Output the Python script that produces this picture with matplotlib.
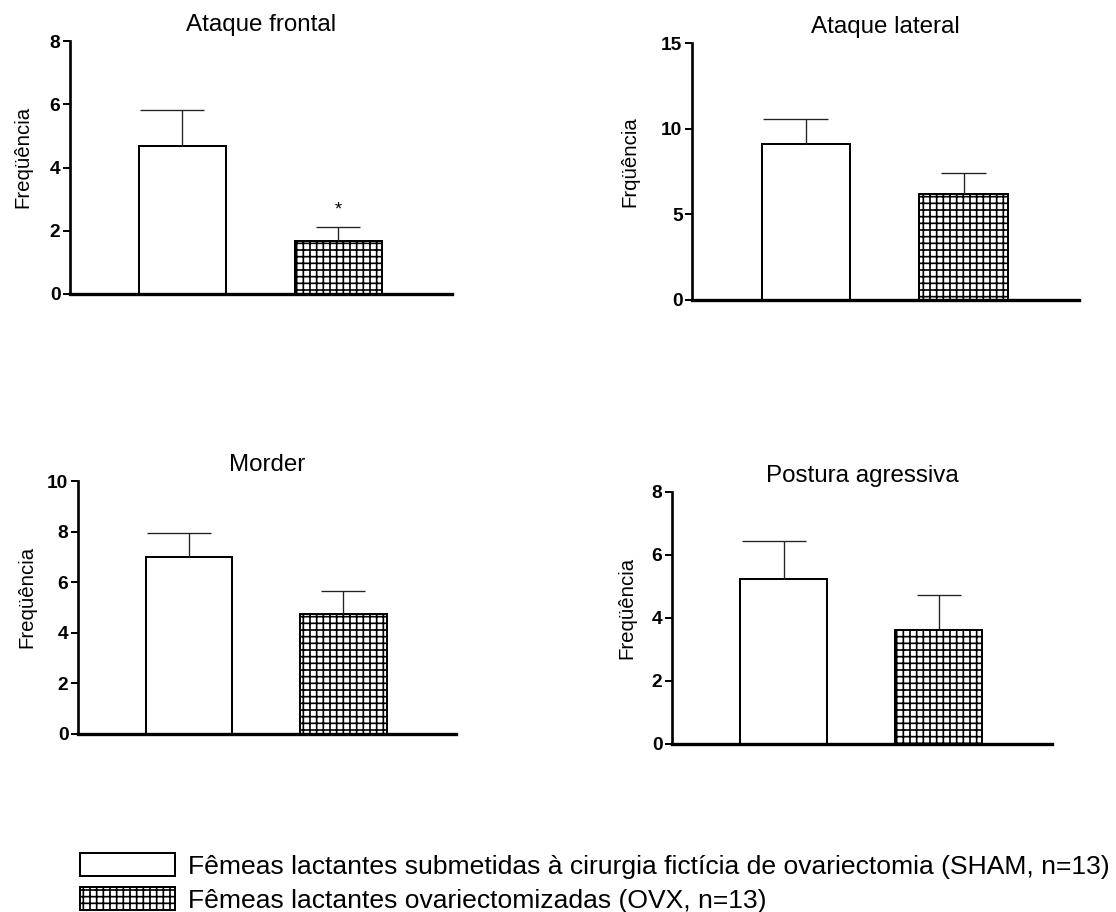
import matplotlib
matplotlib.use("Agg")
import matplotlib.pyplot as plt
from matplotlib.patches import Patch
import numpy as np

plt.rcParams['font.family'] = ['Liberation Sans', 'DejaVu Sans']
plt.rcParams['hatch.linewidth'] = 1.0

# ---- data ----
titles = ["Ataque frontal", "Ataque lateral", "Morder", "Postura agressiva"]
ylabels = ["Freqüência", "Frqüência", "Freqüência", "Freqüência"]
sham_mean = [4.68, 9.10, 6.98, 5.23]
sham_sem = [1.14, 1.46, 0.95, 1.22]
ovx_mean = [1.68, 6.19, 4.76, 3.61]
ovx_sem = [0.44, 1.22, 0.89, 1.11]
ymax = [8, 15, 10, 8]
ystep = [2, 5, 2, 2]
significant_ovx = [True, False, False, False]
legend_labels = ["Fêmeas lactantes submetidas à cirurgia fictícia de ovariectomia (SHAM, n=13)",
                 "Fêmeas lactantes ovariectomizadas (OVX, n=13)"]

# ---- layout (pixels: left, top, right, bottom) ----
W, H, DPI = 1116, 912, 120
boxes = [(70, 41, 452, 294), (692, 43, 1079, 300), (78, 481, 456, 734), (672, 491.7, 1052, 744)]
ylab_x = [-0.124, -0.160, -0.136, -0.118]

fig = plt.figure(figsize=(W / DPI, H / DPI), dpi=DPI)

bar_w = 0.56
cap_half = 0.142
xpos = np.array([0, 1])

for i in range(4):
    l, t, r, b = boxes[i]
    ax = fig.add_axes([l / W, 1 - b / H, (r - l) / W, (b - t) / H])
    means = [sham_mean[i], ovx_mean[i]]
    sems = [sham_sem[i], ovx_sem[i]]
    ax.bar(xpos[0], means[0], width=bar_w, color='white', edgecolor='black', linewidth=1.2, zorder=2)
    ax.bar(xpos[1], means[1], width=bar_w, color='white', edgecolor='black', linewidth=1.2,
           hatch='+++', zorder=2)
    # upper error bars
    ax.vlines(xpos, means, np.array(means) + np.array(sems), color='#222222', linewidth=0.8, zorder=3)
    ax.hlines(means[0] + sems[0], xpos[0] - 0.27, xpos[0] + cap_half, color='#222222', linewidth=0.8, zorder=3)
    ax.hlines(means[1] + sems[1], xpos[1] - cap_half, xpos[1] + cap_half, color='#222222', linewidth=0.8, zorder=3)
    if significant_ovx[i]:
        ax.annotate('*', (xpos[1], means[1] + sems[1]), xytext=(0, 5), textcoords='offset points',
                    ha='center', va='bottom', fontsize=11)
    ax.set_xlim(-0.72, 1.73)
    ax.set_ylim(0, ymax[i])
    ax.set_yticks(np.arange(0, ymax[i] + 0.1, ystep[i]))
    ax.set_xticks([])
    for s in ['top', 'right']:
        ax.spines[s].set_visible(False)
    ax.spines['left'].set_linewidth(1.6)
    ax.spines['bottom'].set_linewidth(2.0)
    ax.tick_params(axis='y', length=4.2, width=1.2, pad=1.5, labelsize=11.5)
    for lab in ax.get_yticklabels():
        lab.set_fontweight('bold')
    ax.set_title(titles[i], fontsize=14.5, pad=6)
    ax.set_ylabel(ylabels[i], fontsize=12.2)
    ax.yaxis.label.set_va('center')
    ax.yaxis.set_label_coords(ylab_x[i], 0.54)

handles = [Patch(facecolor='white', edgecolor='black', linewidth=1.2),
           Patch(facecolor='white', edgecolor='black', linewidth=1.2, hatch='+++')]
fs = 15.9
fspx = fs * DPI / 72
fig.legend(handles, legend_labels, loc='upper left', bbox_to_anchor=(80 / W, 1 - 853 / H),
           frameon=False, fontsize=fs, handlelength=95 / fspx, handleheight=26 / fspx,
           handletextpad=13 / fspx, labelspacing=0.3, borderpad=0, borderaxespad=0)

fig.savefig('out.png', dpi=DPI)
